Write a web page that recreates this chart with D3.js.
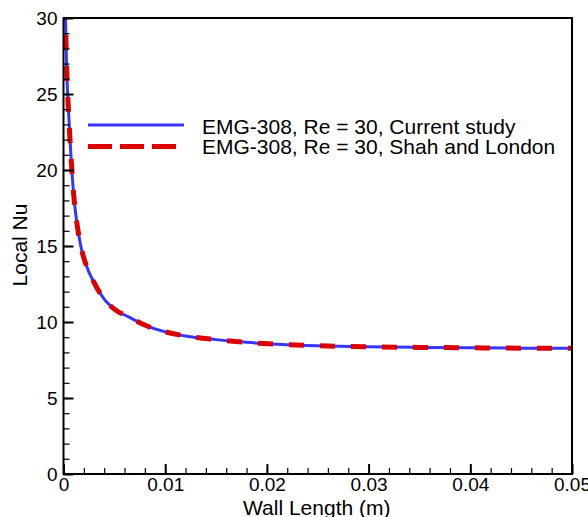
<!DOCTYPE html>
<html>
<head>
<meta charset="utf-8">
<script src="https://cdn.jsdelivr.net/npm/d3@7"></script>
<style>
  body { margin: 0; background: #fff; }
  text { font-family: "Liberation Sans", Arial, sans-serif; fill: #000; }
</style>
</head>
<body>
<script>
// wall length (m)
const wallLength = [0.0001, 0.0002, 0.0003, 0.0005, 0.0007, 0.001, 0.0013, 0.0017, 0.0022, 0.003,
  0.004, 0.005, 0.0065, 0.008, 0.01, 0.012, 0.015, 0.018, 0.022, 0.026, 0.03, 0.035, 0.04, 0.045, 0.05];
// local Nu, current study
const nuCurrent = [35, 30, 27, 23.8, 21.3, 18.4, 16.6, 15.0, 13.8, 12.6,
  11.5, 10.85, 10.3, 9.8, 9.35, 9.08, 8.84, 8.66, 8.51, 8.42, 8.37, 8.33, 8.3, 8.28, 8.27];
// local Nu, Shah and London
const nuShah = [35, 30, 27, 23.8, 21.3, 18.4, 16.6, 15.0, 13.8, 12.6,
  11.5, 10.85, 10.3, 9.8, 9.35, 9.08, 8.84, 8.66, 8.51, 8.42, 8.37, 8.33, 8.3, 8.28, 8.27];
const xTicks = [0, 0.01, 0.02, 0.03, 0.04, 0.05];
const yTicks = [0, 5, 10, 15, 20, 25, 30];
const legendLabels = ['EMG-308, Re = 30, Current study', 'EMG-308, Re = 30, Shah and London'];

const width = 588, height = 517;
const margin = { top: 18, right: 16, bottom: 43, left: 63.5 };

const svg = d3.select('body').append('svg')
  .attr('width', width)
  .attr('height', height);

const x = d3.scaleLinear().domain([0, 0.05]).range([margin.left, width - margin.right]);
const y = d3.scaleLinear().domain([0, 30]).range([height - margin.bottom, margin.top]);

svg.append('clipPath').attr('id', 'plot')
  .append('rect')
  .attr('x', x(0)).attr('y', y(30))
  .attr('width', x(0.05) - x(0)).attr('height', y(0) - y(30));

const line = d3.line()
  .x(d => x(d[0]))
  .y(d => y(d[1]))
  .curve(d3.curveMonotoneX);

const plot = svg.append('g').attr('clip-path', 'url(#plot)');

plot.append('path')
  .datum(wallLength.map((v, i) => [v, nuCurrent[i]]))
  .attr('d', line)
  .attr('fill', 'none')
  .attr('stroke', '#3535ff')
  .attr('stroke-width', 3);

plot.append('path')
  .datum(wallLength.map((v, i) => [v, nuShah[i]]))
  .attr('d', line)
  .attr('fill', 'none')
  .attr('stroke', '#dd0000')
  .attr('stroke-width', 5)
  .attr('stroke-dasharray', '15,16');

// minor ticks
const xMinor = d3.range(0, 0.0501, 0.002);
const yMinor = d3.range(0, 31, 1);

svg.append('g')
  .attr('transform', `translate(0,${y(0)})`)
  .call(d3.axisBottom(x).tickValues(xMinor).tickSize(-6).tickFormat(''))
  .call(g => g.select('.domain').remove())
  .call(g => g.selectAll('line').attr('stroke-width', 1.2));

svg.append('g')
  .attr('transform', `translate(${x(0)},0)`)
  .call(d3.axisLeft(y).tickValues(yMinor).tickSize(-6).tickFormat(''))
  .call(g => g.select('.domain').remove())
  .call(g => g.selectAll('line').attr('stroke-width', 1.2));

// major ticks
svg.append('g')
  .attr('transform', `translate(0,${y(0)})`)
  .call(d3.axisBottom(x).tickValues(xTicks).tickSize(-10).tickPadding(6).tickFormat(d => d === 0 ? '0' : d3.format('.2f')(d)))
  .call(g => g.select('.domain').remove())
  .call(g => g.selectAll('line').attr('stroke-width', 2))
  .call(g => g.selectAll('text').attr('font-size', 19).attr('dy', '0.71em').attr('y', 4).attr('fill', '#000'));

svg.append('g')
  .attr('transform', `translate(${x(0)},0)`)
  .call(d3.axisLeft(y).tickValues(yTicks).tickSize(-10).tickFormat(d3.format('d')))
  .call(g => g.select('.domain').remove())
  .call(g => g.selectAll('line').attr('stroke-width', 2))
  .call(g => g.selectAll('text').attr('font-size', 19).attr('x', -6).attr('fill', '#000'));

// frame
svg.append('rect')
  .attr('x', x(0)).attr('y', y(30))
  .attr('width', x(0.05) - x(0)).attr('height', y(0) - y(30))
  .attr('fill', 'none')
  .attr('stroke', '#000')
  .attr('stroke-width', 2);

// axis titles
svg.append('text')
  .attr('x', (x(0) + x(0.05)) / 2 - 1)
  .attr('y', 514.5)
  .attr('text-anchor', 'middle')
  .attr('font-size', 21)
  .text('Wall Length (m)');

svg.append('text')
  .attr('transform', `translate(27,${y(15) - 1}) rotate(-90)`)
  .attr('text-anchor', 'middle')
  .attr('font-size', 21)
  .text('Local Nu');

// legend
const legend = svg.append('g');
const legendStyles = [
  { color: '#3535ff', w: 3, dash: null },
  { color: '#dd0000', w: 5, dash: '24,8' }
];
legendLabels.forEach((label, i) => {
  const ly = 125 + i * 21.5;
  legend.append('line')
    .attr('x1', 88).attr('x2', 184)
    .attr('y1', ly).attr('y2', ly)
    .attr('stroke', legendStyles[i].color)
    .attr('stroke-width', legendStyles[i].w)
    .attr('stroke-dasharray', legendStyles[i].dash);
  legend.append('text')
    .attr('x', 202)
    .attr('y', 134 + i * 19.5)
    .attr('font-size', 21)
    .text(label);
});
</script>
</body>
</html>
